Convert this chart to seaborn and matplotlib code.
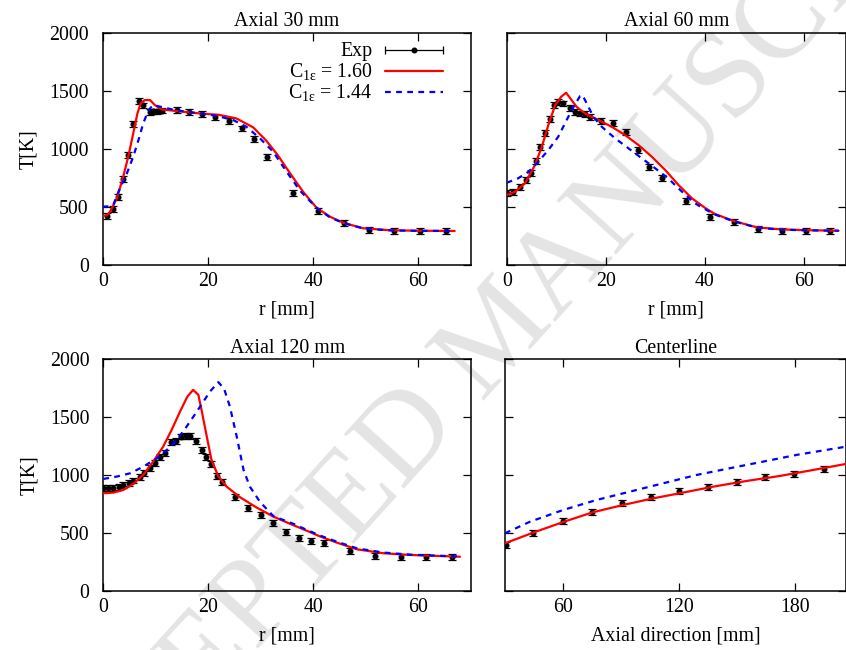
import numpy as np
import pandas as pd
import matplotlib
matplotlib.use("Agg")
import matplotlib.pyplot as plt
import seaborn as sns
from matplotlib.lines import Line2D
from matplotlib.legend_handler import HandlerBase

# ---------------- data ----------------
# Axial 30 mm
a30_exp_r = [0.9, 1.9, 3.0, 3.8, 4.9, 5.7, 6.9, 7.7, 8.9, 9.6, 10.4, 11.2, 14.2, 16.4, 18.8,
             21.3, 24.0, 26.4, 28.7, 31.3, 36.1, 41.0, 45.8, 50.6, 55.4, 60.3, 65.2]
a30_exp_T = [422, 479, 588, 743, 949, 1216, 1409, 1374, 1319, 1322, 1322, 1330, 1337, 1317, 1300,
             1274, 1242, 1176, 1087, 932, 617, 467, 359, 301, 293, 293, 293]
a30_c160_r = [0, 0.8, 1.4, 2.7, 3.9, 4.9, 5.8, 6.6, 7.2, 8.0, 9.0, 9.9, 11.2, 14.1, 18.5, 22.3,
              25.4, 28.6, 31.1, 33.2, 35.6, 38.1, 40.6, 43.2, 45.7, 49.5, 54.6, 60.0, 66.9]
a30_c160_T = [422, 428, 459, 574, 760, 940, 1133, 1305, 1391, 1420, 1420, 1377, 1340, 1325, 1305, 1291,
              1262, 1185, 1070, 950, 790, 630, 495, 416, 364, 316, 299, 295, 293]
a30_c144_r = [0, 1.0, 2.0, 3.0, 4.6, 5.8, 6.8, 7.7, 8.7, 9.6, 11.5, 14.1, 18.5, 21.6, 24.8, 27.3,
              29.9, 32.4, 35.0, 37.5, 39.4, 41.0, 43.2, 45.7, 49.5, 54.6, 60.0, 66.9]
a30_c144_T = [502, 505, 516, 631, 789, 932, 1076, 1219, 1334, 1377, 1357, 1330, 1305, 1285, 1248, 1190,
              1090, 975, 800, 640, 550, 480, 410, 362, 315, 298, 294, 293]

# Axial 60 mm
a60_exp_r = [0, 1.3, 2.7, 3.8, 4.9, 5.9, 6.7, 7.7, 8.7, 9.6, 10.4, 11.4, 12.8, 13.8, 14.8, 15.8,
             16.8, 19.1, 21.5, 24.0, 26.5, 28.8, 31.3, 36.2, 41.1, 45.9, 50.8, 55.6, 60.4, 65.2]
a60_exp_T = [617, 631, 669, 731, 789, 898, 1018, 1133, 1254, 1377, 1400, 1391, 1349, 1314, 1305, 1297,
             1276, 1239, 1225, 1147, 990, 841, 746, 551, 416, 373, 307, 295, 295, 295]
a60_c160_r = [0, 1.7, 3.7, 5.7, 7.1, 8.4, 9.8, 11.0, 12.0, 13.1, 14.1, 15.8, 18.5, 21.2, 23.9, 26.6,
              29.3, 32.0, 34.7, 37.4, 40.1, 42.0, 45.8, 50.5, 55.2, 60.0, 67.0]
a60_c160_T = [602, 631, 703, 860, 1018, 1205, 1377, 1449, 1483, 1420, 1362, 1305, 1248, 1190, 1119, 1033,
              932, 818, 688, 574, 490, 440, 379, 324, 307, 300, 295]
a60_c144_r = [0, 2.3, 4.4, 6.4, 8.4, 10.4, 12.1, 13.5, 14.8, 15.3, 16.5, 17.5, 19.2, 21.9, 24.6, 27.3,
              30.0, 32.6, 35.4, 38.0, 40.5, 42.0, 45.8, 50.5, 55.2, 60.0, 67.0]
a60_c144_T = [708, 746, 803, 889, 990, 1104, 1248, 1362, 1454, 1463, 1362, 1276, 1190, 1090, 1004, 918,
              832, 746, 631, 531, 470, 435, 377, 322, 305, 299, 295]

# Axial 120 mm
a120_exp_r = [0, 0.95, 1.9, 2.9, 3.8, 4.8, 5.7, 6.9, 7.8, 8.9, 9.8, 10.8, 11.8, 12.8, 13.8, 14.7,
              15.8, 16.6, 17.7, 18.7, 19.6, 20.5, 21.6, 22.6, 25.1, 27.6, 30.0, 32.3, 34.7, 37.3,
              39.6, 42.1, 47.0, 51.8, 56.6, 61.5, 66.4]
a120_exp_T = [887, 887, 892, 901, 915, 930, 953, 987, 1016, 1060, 1108, 1155, 1194, 1289, 1298, 1333,
              1339, 1339, 1298, 1218, 1155, 1097, 996, 939, 814, 714, 656, 585, 507, 455,
              434, 412, 345, 302, 291, 291, 291]
a120_c160_r = [0, 1.9, 3.8, 5.7, 7.6, 9.5, 11.4, 13.0, 14.6, 16.0, 17.1, 18.1, 18.7, 19.7, 20.6, 21.9,
               23.5, 26.0, 29.2, 32.4, 35.6, 38.7, 41.3, 44.5, 48.3, 53.3, 58.4, 67.9]
a120_c160_T = [844, 849, 872, 924, 1002, 1117, 1246, 1390, 1548, 1678, 1736, 1693, 1563, 1333, 1131, 990,
               900, 810, 720, 642, 579, 521, 470, 417, 360, 326, 311, 296]
a120_c144_r = [0, 2.5, 5.1, 7.6, 10.2, 12.7, 15.2, 17.8, 20.3, 21.9, 23.0, 24.1, 25.4, 26.7, 27.9, 29.8,
               32.4, 36.2, 38.7, 41.3, 44.5, 48.3, 53.3, 58.4, 67.9]
a120_c144_T = [967, 987, 1016, 1073, 1146, 1241, 1376, 1548, 1721, 1803, 1745, 1592, 1333, 1045, 901, 771,
               645, 580, 528, 478, 425, 368, 332, 314, 297]

# Centerline
cl_exp_z = [30.5, 44.6, 60.2, 74.8, 90.4, 105.4, 120.0, 134.8, 149.8, 164.5, 179.6, 195.0]
cl_exp_T = [397, 504, 604, 679, 757, 814, 863, 901, 944, 987, 1013, 1051]
cl_c160_z = [30, 44.6, 60.2, 75.3, 91.2, 106.7, 120.5, 137.8, 155.0, 172.2, 189.5, 206.4]
cl_c160_T = [412, 504, 596, 679, 743, 800, 844, 901, 950, 993, 1045, 1097]
cl_c144_z = [30, 42.9, 60.2, 77.4, 94.7, 111.9, 129.2, 146.4, 163.6, 180.9, 206.4]
cl_c144_T = [498, 598, 700, 786, 858, 930, 1002, 1060, 1117, 1175, 1246]

exp_err = 25  # K, half-height of the experimental error bars

titles = ["Axial 30 mm", "Axial 60 mm", "Axial 120 mm", "Centerline"]
xlabels = ["r [mm]", "r [mm]", "r [mm]", "Axial direction [mm]"]
ylabel = "T[K]"
legend_labels = ["Exp", r"$\mathrm{C}_{\mathrm{1\varepsilon}}$ = 1.60", r"$\mathrm{C}_{\mathrm{1\varepsilon}}$ = 1.44"]
radial_ticks = [0, 20, 40, 60]
axial_ticks = [60, 120, 180]
T_ticks = [0, 500, 1000, 1500, 2000]

# ---------------- style ----------------
sns.set_theme(style="ticks")
FS = 14.3
plt.rcParams.update({
    "font.size": FS,
    "axes.edgecolor": "black",
    "axes.labelcolor": "black",
    "text.color": "black",
    "xtick.color": "black",
    "ytick.color": "black",
    "axes.linewidth": 1.1,
    "xtick.direction": "in",
    "ytick.direction": "in",
    "xtick.top": True,
    "ytick.right": True,
    "xtick.major.size": 5.5,
    "ytick.major.size": 5.5,
    "xtick.major.width": 0.9,
    "ytick.major.width": 0.9,
    "mathtext.fontset": "custom",
    "mathtext.rm": "Liberation Serif",
    "mathtext.it": "Liberation Serif:italic",
    "mathtext.bf": "Liberation Serif:bold",
})
plt.rcParams["font.family"] = ["Liberation Serif", "DejaVu Serif"]

W, H = 846, 650
fig = plt.figure(figsize=(W / 100, H / 100), dpi=100)
fig.patch.set_facecolor("white")

# watermark
fig.text(0.594, 0.482, "ACCEPTED MANUSCRIPT", rotation=47.8, ha="center", va="center",
         fontsize=88, color="#e4e4e4", zorder=-5)

def px_axes(x0, y0, x1, y1):
    return fig.add_axes([x0 / W, 1 - y1 / H, (x1 - x0) / W, (y1 - y0) / H])

axes = [
    px_axes(102.7, 32.7, 471, 265),
    px_axes(506.7, 32.7, 846, 265),
    px_axes(103.3, 359.3, 471, 591),
    px_axes(505, 359.3, 846, 591),
]

panels = [
    (a30_exp_r, a30_exp_T, a30_c160_r, a30_c160_T, a30_c144_r, a30_c144_T),
    (a60_exp_r, a60_exp_T, a60_c160_r, a60_c160_T, a60_c144_r, a60_c144_T),
    (a120_exp_r, a120_exp_T, a120_c160_r, a120_c160_T, a120_c144_r, a120_c144_T),
    (cl_exp_z, cl_exp_T, cl_c160_z, cl_c160_T, cl_c144_z, cl_c144_T),
]
xlims = [(0, 70), (0, 68.5), (0, 70), (30, 206.4)]

for i, (ax, (ex, eT, rx, rT, bx, bT)) in enumerate(zip(axes, panels)):
    ax.set_facecolor("none")
    ax.errorbar(ex, eT, yerr=exp_err, fmt="o", color="black", ms=3.3, elinewidth=0.9,
                capsize=2.6, capthick=0.9, zorder=2)
    sns.lineplot(x=rx, y=rT, ax=ax, color="#ff0000", lw=1.6, sort=False, estimator=None, zorder=3)
    sns.lineplot(x=bx, y=bT, ax=ax, color="#0000ff", lw=1.6, linestyle=(0, (2.6, 2.4)),
                 sort=False, estimator=None, zorder=4)
    ax.set_xlim(*xlims[i])
    ax.set_ylim(0, 2000)
    ax.set_yticks(T_ticks)
    ax.set_xticks(axial_ticks if i == 3 else radial_ticks)
    ax.tick_params(axis="x", pad=5, labelsize=FS)
    ax.tick_params(axis="y", pad=10, labelsize=FS)
    ax.set_title(titles[i], pad=4.5, fontsize=FS)
    ax.set_xlabel(xlabels[i], labelpad=7, fontsize=FS)
    if i in (0, 2):
        ax.set_ylabel(ylabel, labelpad=8, fontsize=FS)
    else:
        ax.set_ylabel("")
        ax.tick_params(axis="y", labelleft=False)
    for s in ax.spines.values():
        s.set_visible(True)
        s.set_linewidth(1.1)


class ExpHandler(HandlerBase):
    def create_artists(self, legend, orig_handle, xdescent, ydescent, width, height, fontsize, trans):
        y = height / 2 - ydescent
        x0, x1 = -xdescent, width - xdescent
        line = Line2D([x0, x1], [y, y], color="black", lw=0.9, transform=trans)
        caps = Line2D([x0, x1], [y, y], ls="none", marker="|", ms=6, mew=0.9, color="black",
                      transform=trans)
        dot = Line2D([(x0 + x1) / 2], [y], ls="none", marker="o", ms=3.3, color="black",
                     transform=trans)
        return [line, caps, dot]


exp_handle = Line2D([], [], color="black")
red_handle = Line2D([], [], color="#ff0000", lw=1.6)
blue_handle = Line2D([], [], color="#0000ff", lw=1.6, linestyle=(0, (2.6, 2.4)))
axes[0].legend([exp_handle, red_handle, blue_handle], legend_labels,
               handler_map={exp_handle: ExpHandler()},
               loc="upper right", bbox_to_anchor=(0.924, 0.958), frameon=False,
               markerfirst=False, handlelength=2.9, handletextpad=0.65,
               labelspacing=0.0, borderpad=0, borderaxespad=0, fontsize=FS)

fig.savefig("out.png", dpi=100)
